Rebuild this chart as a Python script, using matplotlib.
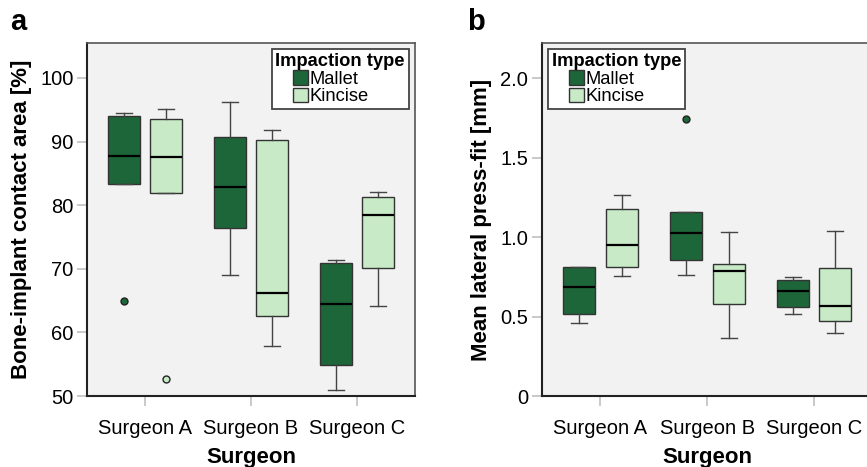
import matplotlib
matplotlib.use("Agg")
import matplotlib.pyplot as plt
from matplotlib.patches import Patch, Rectangle
from matplotlib.legend_handler import HandlerPatch

plt.rcParams['font.family'] = ['Liberation Sans', 'DejaVu Sans']

surgeons = ["Surgeon A", "Surgeon B", "Surgeon C"]
groups = ["Mallet", "Kincise"]

# Panel a: Bone-implant contact area [%]
a_mallet_whislo = [83.4, 69.1, 50.9]
a_mallet_q1 = [83.4, 76.4, 54.8]
a_mallet_med = [87.8, 82.9, 64.5]
a_mallet_q3 = [94.1, 90.7, 70.9]
a_mallet_whishi = [94.5, 96.3, 71.4]
a_mallet_fliers = [[64.9], [], []]

a_kincise_whislo = [81.9, 57.8, 64.1]
a_kincise_q1 = [81.9, 62.5, 70.2]
a_kincise_med = [87.5, 66.2, 78.5]
a_kincise_q3 = [93.6, 90.2, 81.3]
a_kincise_whishi = [95.1, 91.9, 82.1]
a_kincise_fliers = [[52.6], [], []]

# Panel b: Mean lateral press-fit [mm]
b_mallet_whislo = [0.461, 0.763, 0.516]
b_mallet_q1 = [0.514, 0.855, 0.558]
b_mallet_med = [0.684, 1.023, 0.658]
b_mallet_q3 = [0.811, 1.161, 0.732]
b_mallet_whishi = [0.813, 1.161, 0.750]
b_mallet_fliers = [[], [1.742], []]

b_kincise_whislo = [0.753, 0.365, 0.396]
b_kincise_q1 = [0.811, 0.579, 0.474]
b_kincise_med = [0.952, 0.784, 0.564]
b_kincise_q3 = [1.174, 0.834, 0.803]
b_kincise_whishi = [1.266, 1.033, 1.036]
b_kincise_fliers = [[], [], []]

c_dark = "#1d6639"
c_light = "#c8eac6"
bg = "#f2f2f2"


def stats(lo, q1, med, q3, hi, fl):
    return [dict(whislo=lo[i], q1=q1[i], med=med[i], q3=q3[i], whishi=hi[i],
                 fliers=fl[i]) for i in range(len(lo))]


def square_right(legend, orig_handle, xdescent, ydescent, width, height, fontsize):
    return Rectangle((-xdescent + width - height, -ydescent), height, height)


def draw_panel(ax, mallet, kincise, ylim, yticks, yticklabels, ylabel, legend_loc):
    ax.set_facecolor(bg)
    for st, off, col in [(mallet, -0.2, c_dark), (kincise, 0.2, c_light)]:
        pos = [i + off for i in range(len(surgeons))]
        ax.bxp(st, positions=pos, widths=0.3, patch_artist=True, manage_ticks=False,
               boxprops=dict(facecolor=col, edgecolor="#333333", linewidth=1.0),
               medianprops=dict(color="black", linewidth=1.6),
               whiskerprops=dict(color="#444444", linewidth=1.0),
               capprops=dict(color="#444444", linewidth=1.0),
               capwidths=0.15,
               flierprops=dict(marker="o", markerfacecolor=col, markeredgecolor="#222222",
                               markersize=5, markeredgewidth=1.0))
    ax.set_xlim(-0.55, 2.55)
    ax.set_ylim(*ylim)
    ax.set_xticks(range(len(surgeons)))
    ax.set_xticklabels(surgeons, fontsize=14.5)
    ax.set_yticks(yticks)
    ax.set_yticklabels(yticklabels, fontsize=14.5)
    ax.tick_params(axis='both', color="#c0c0c0", length=7.2, width=1.2)
    ax.tick_params(axis='y', pad=2.5)
    ax.tick_params(axis='x', pad=9.5)
    for s in ["left", "bottom"]:
        ax.spines[s].set_color("#222222")
        ax.spines[s].set_linewidth(1.5)
    for s in ["top", "right"]:
        ax.spines[s].set_color("#555555")
        ax.spines[s].set_linewidth(1.2)
    ax.set_xlabel("Surgeon", fontsize=16, fontweight="bold", labelpad=6.5)
    ax.set_ylabel(ylabel, fontsize=16, fontweight="bold", labelpad=6)
    handles = [Patch(facecolor=c_dark, edgecolor="#333333", label=groups[0]),
               Patch(facecolor=c_light, edgecolor="#333333", label=groups[1])]
    leg = ax.legend(handles=handles, title="Impaction type", loc=legend_loc,
                    fontsize=13.2, title_fontproperties=dict(weight="bold", size=13.2),
                    frameon=True, fancybox=False, framealpha=1, edgecolor="#444444",
                    handlelength=1.75, handleheight=0.85, handletextpad=0.1,
                    labelspacing=0.0, borderpad=0.2, borderaxespad=0.35,
                    handler_map={Patch: HandlerPatch(patch_func=square_right)})
    leg.get_frame().set_linewidth(1.3)
    leg._legend_box.align = "left"


fig = plt.figure(figsize=(8.67, 4.67), dpi=100)
ax1 = fig.add_axes([87 / 867, 71 / 467, 328 / 867, 353 / 467])
ax2 = fig.add_axes([541.7 / 867, 71 / 467, 331 / 867, 353 / 467])

draw_panel(ax1,
           stats(a_mallet_whislo, a_mallet_q1, a_mallet_med, a_mallet_q3, a_mallet_whishi, a_mallet_fliers),
           stats(a_kincise_whislo, a_kincise_q1, a_kincise_med, a_kincise_q3, a_kincise_whishi, a_kincise_fliers),
           (50, 105.5), [50, 60, 70, 80, 90, 100], ["50", "60", "70", "80", "90", "100"],
           "Bone-implant contact area [%]", "upper right")
draw_panel(ax2,
           stats(b_mallet_whislo, b_mallet_q1, b_mallet_med, b_mallet_q3, b_mallet_whishi, b_mallet_fliers),
           stats(b_kincise_whislo, b_kincise_q1, b_kincise_med, b_kincise_q3, b_kincise_whishi, b_kincise_fliers),
           (0, 2.222), [0, 0.5, 1.0, 1.5, 2.0], ["0", "0.5", "1.0", "1.5", "2.0"],
           "Mean lateral press-fit [mm]", "upper left")

fig.text(10 / 867, 1 - 22 / 467, "a", fontsize=21, fontweight="bold", va="center", ha="left")
fig.text(467 / 867, 1 - 22 / 467, "b", fontsize=21, fontweight="bold", va="center", ha="left")

fig.savefig("out.png", dpi=100)
